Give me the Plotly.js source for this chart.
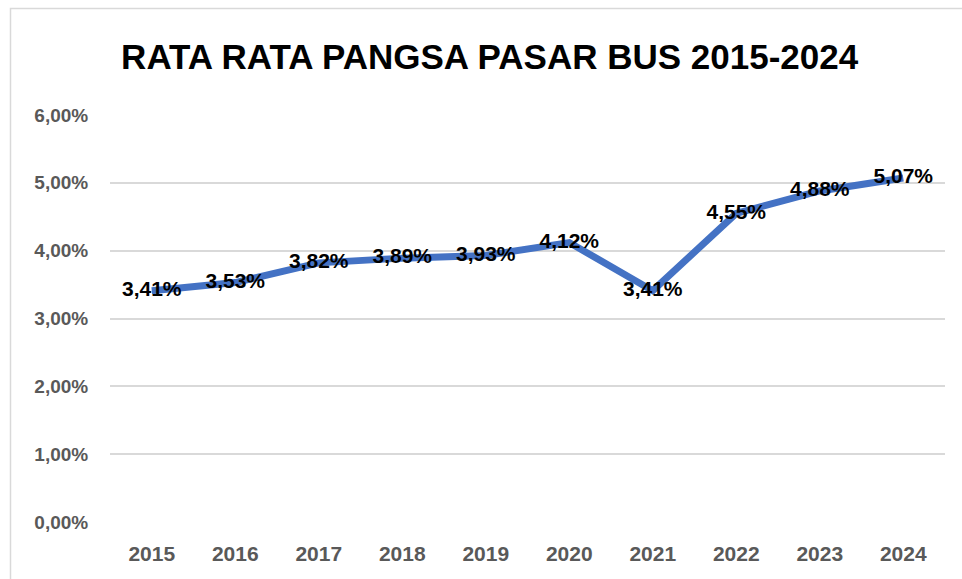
<!DOCTYPE html>
<html>
<head>
<meta charset="utf-8">
<script src="https://cdn.plot.ly/plotly-3.0.1.min.js"></script>
<style>
html,body{margin:0;padding:0;background:#fff;}
#chart{width:962px;height:579px;}
</style>
</head>
<body>
<div id="chart"></div>
<script>
const years = ['2015','2016','2017','2018','2019','2020','2021','2022','2023','2024'];
const shares = [3.41, 3.53, 3.82, 3.89, 3.93, 4.12, 3.41, 4.55, 4.88, 5.07];
const yTicks = [0, 1, 2, 3, 4, 5, 6];
const titleText = 'RATA RATA PANGSA PASAR BUS 2015-2024';

const FONT = '"Liberation Sans", Arial, sans-serif';
const fmtPct = v => v.toFixed(2).replace('.', ',') + '%';

const trace = {
  x: years,
  y: shares,
  type: 'scatter',
  mode: 'lines+text',
  line: {color: '#4472C4', width: 7},
  text: shares.map(v => '<b>' + fmtPct(v) + '</b>'),
  textposition: 'middle center',
  textfont: {family: FONT, size: 21, color: '#000000'},
  hoverinfo: 'skip',
  cliponaxis: false
};

const layout = {
  width: 962,
  height: 579,
  paper_bgcolor: '#ffffff',
  plot_bgcolor: '#ffffff',
  margin: {l: 110, r: 17, t: 115, b: 57},
  showlegend: false,
  title: {
    text: '<b>' + titleText + '</b>',
    font: {family: FONT, size: 35, color: '#000000'},
    x: 0.509, xref: 'container', xanchor: 'center',
    y: 0.9016, yref: 'container', yanchor: 'middle'
  },
  xaxis: {
    type: 'category',
    range: [-0.5, 9.5],
    showgrid: false,
    showline: false,
    zeroline: false,
    ticks: 'outside',
    ticklen: 13,
    tickcolor: 'rgba(0,0,0,0)',
    tickfont: {family: FONT, size: 21, color: '#595959', weight: 'bold'},
    fixedrange: true
  },
  yaxis: {
    range: [0, 6],
    tickmode: 'array',
    tickvals: yTicks,
    ticktext: yTicks.map(fmtPct),
    showgrid: true,
    gridcolor: '#d9d9d9',
    gridwidth: 2,
    zeroline: false,
    showline: false,
    ticks: 'outside',
    ticklen: 17,
    tickcolor: 'rgba(0,0,0,0)',
    tickfont: {family: FONT, size: 19, color: '#595959', weight: 'bold'},
    fixedrange: true
  },
  shapes: [{
    type: 'rect',
    xref: 'paper', yref: 'paper',
    x0: (10.5 - 110) / 835, x1: (975 - 110) / 835,
    y0: (522 - 590) / 407, y1: (522 - 8.5) / 407,
    line: {color: '#d9d9d9', width: 1.5},
    fillcolor: 'rgba(0,0,0,0)',
    layer: 'below'
  }]
};

Plotly.newPlot('chart', [trace], layout, {displayModeBar: false, staticPlot: true});
</script>
</body>
</html>
